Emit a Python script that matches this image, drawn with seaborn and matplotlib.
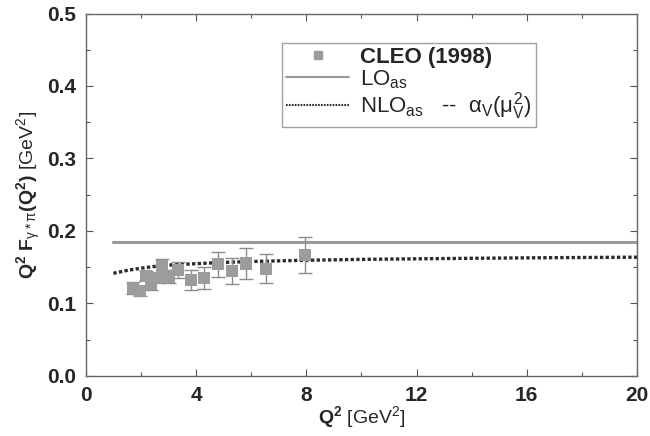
import numpy as np
import pandas as pd
import matplotlib
matplotlib.use('Agg')
import matplotlib.pyplot as plt
import seaborn as sns
from matplotlib.lines import Line2D

# CLEO (1998) data
cleo_q2 = [1.72, 1.96, 2.17, 2.36, 2.57, 2.77, 3.01, 3.35, 3.81, 4.29, 4.80, 5.31, 5.80, 6.53, 7.97]
cleo_f = [0.121, 0.117, 0.138, 0.127, 0.135, 0.151, 0.137, 0.146, 0.132, 0.135, 0.154, 0.145, 0.155, 0.148, 0.167]
cleo_err = [0.008, 0.007, 0.006, 0.008, 0.007, 0.010, 0.009, 0.0115, 0.014, 0.015, 0.017, 0.018, 0.022, 0.020, 0.025]

# LO (constant) and NLO curves
lo_q2 = [1.0, 20.0]
lo_f = [0.185, 0.185]
nlo_q2 = [1.0, 1.5, 2.0, 2.5, 3.0, 4.0, 5.0, 6.0, 8.0, 10.0, 12.0, 14.0, 16.0, 18.0, 20.0]
nlo_f = [0.1415, 0.1455, 0.1485, 0.1510, 0.1528, 0.1548, 0.1565, 0.1578, 0.1595, 0.1607,
         0.1615, 0.1622, 0.1628, 0.1633, 0.1637]

sns.set_style('ticks')
plt.rcParams['font.family'] = ['Liberation Sans', 'DejaVu Sans']
plt.rcParams['mathtext.fontset'] = 'custom'
plt.rcParams['mathtext.rm'] = 'Liberation Sans'
plt.rcParams['mathtext.it'] = 'Liberation Sans'
plt.rcParams['mathtext.bf'] = 'Liberation Sans:bold'

fig = plt.figure(figsize=(6.5, 4.36), dpi=100)
ax = fig.add_axes([0.132, 0.138, 0.848, 0.831])

df_cleo = pd.DataFrame({'q2': cleo_q2, 'f': cleo_f, 'err': cleo_err})
df_lo = pd.DataFrame({'q2': lo_q2, 'f': lo_f})
df_nlo = pd.DataFrame({'q2': nlo_q2, 'f': nlo_f})

sns.lineplot(data=df_lo, x='q2', y='f', ax=ax, color='#9a9a9a', lw=2.2)
sns.lineplot(data=df_nlo, x='q2', y='f', ax=ax, color='#2a2a2a', lw=2.4,
             linestyle=(0, (1.0, 0.7)))
ax.errorbar(df_cleo['q2'], df_cleo['f'], yerr=df_cleo['err'], fmt='none',
            ecolor='#8c8c8c', elinewidth=1.0, capsize=5, capthick=1.0, zorder=3)
sns.scatterplot(data=df_cleo, x='q2', y='f', ax=ax, marker='s', s=75,
                color='#9c9c9c', edgecolor='none', zorder=4)

ax.set_xlim(0, 20)
ax.set_ylim(0, 0.5)
ax.set_xticks(np.arange(0, 21, 4))
ax.set_xticks(np.arange(2, 20, 4), minor=True)
ax.set_yticks(np.arange(0, 0.51, 0.1))
ax.set_yticks(np.arange(0.05, 0.5, 0.1), minor=True)
ax.set_yticklabels([f'{v:.1f}' for v in np.arange(0, 0.51, 0.1)])
ax.tick_params(which='both', direction='in', top=True, right=True, color='#555555', width=0.8)
ax.tick_params(which='major', length=5, labelsize=15, pad=7)
ax.tick_params(which='minor', length=3)
for lab in ax.get_xticklabels() + ax.get_yticklabels():
    lab.set_fontweight('bold')
for sp in ax.spines.values():
    sp.set_color('#666666')
    sp.set_linewidth(1.0)

ax.set_xlabel(r'$\mathbf{Q^2}$ [GeV$^2$]', fontsize=14, labelpad=0)
ax.set_ylabel(r'$\mathbf{Q^2\ F}_{\gamma*\pi}\mathbf{(Q^2)}$ [GeV$^2$]', fontsize=14, labelpad=3)

handles = [
    Line2D([], [], marker='s', color='#9c9c9c', linestyle='none', markersize=6),
    Line2D([], [], color='#9a9a9a', lw=1.5),
    Line2D([], [], color='#2a2a2a', lw=1.5, linestyle=(0, (0.8, 0.6))),
]
labels = ['CLEO (1998)', r'LO$_{\rm as}$', r'NLO$_{\rm as}$   --  $\alpha_V(\mu_V^2)$']
leg = ax.legend(handles, labels, loc='upper left', bbox_to_anchor=(0.356, 0.92),
                fontsize=16, frameon=True, fancybox=False, borderpad=0.2,
                handlelength=2.8, handletextpad=0.5, labelspacing=0.0, borderaxespad=0)
leg.get_frame().set_edgecolor('#888888')
leg.get_frame().set_linewidth(1.0)
leg.get_texts()[0].set_fontweight('bold')

fig.savefig('out.png', dpi=100)
